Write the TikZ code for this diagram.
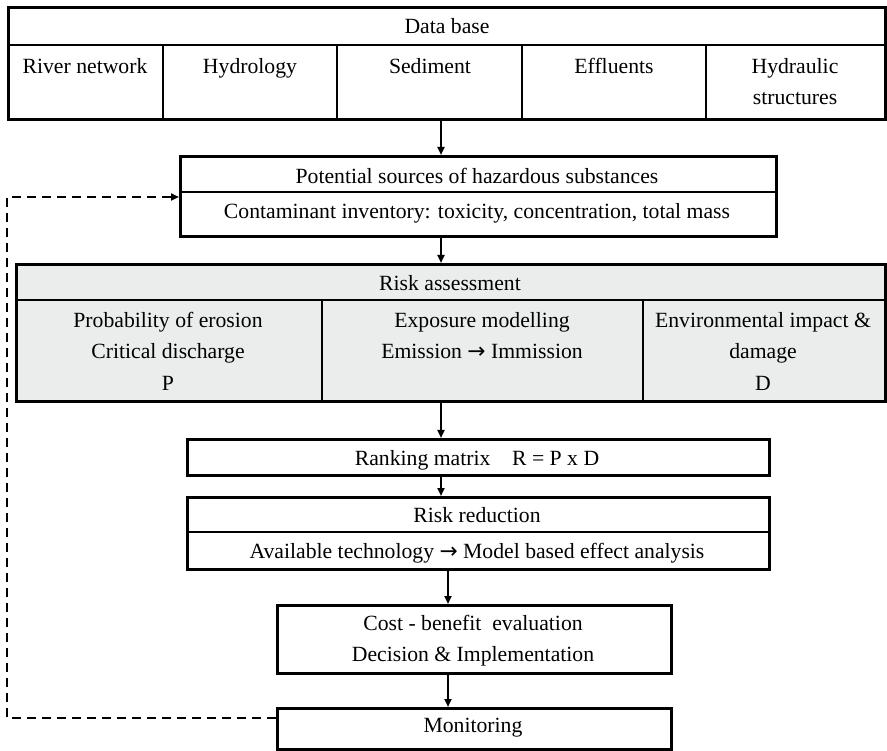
\documentclass[tikz,border=0pt]{standalone}
\usepackage{fontspec}
\setmainfont{Liberation Serif}
\newfontfamily\arrowfont{DejaVu Sans}
\newcommand{\rarr}{{\arrowfont →}}
\usetikzlibrary{arrows.meta}
\definecolor{boxgray}{RGB}{235,237,237}
\tikzset{
  box/.style={draw, line width=3pt, rectangle, inner sep=0pt, anchor=north west},
  txt/.style={font=\fontsize{21.7}{31.5}\selectfont, inner sep=0pt, align=center, anchor=north},
  divider/.style={line width=1.6pt},
  flow/.style={line width=2pt, -{Triangle[length=8pt,width=7pt]}},
  feedback/.style={line width=2.6pt, dash pattern=on 9pt off 6pt},
}
\begin{document}
\begin{tikzpicture}[x=1pt,y=-1pt]
\useasboundingbox (0,0) rectangle (887,751);
% Data base
\node[box, minimum width=877pt, minimum height=112pt] (db) at (7,6) {};
\draw[divider] (7,45) -- (884,45);
\foreach \x in {163,337,522,706} \draw[divider] (\x,45) -- (\x,118);
\node[txt] (tdb) at (447,18) {Data base};
\node[txt] (t1) at (85,58) {River network};
\node[txt] (t2) at (250,58) {Hydrology};
\node[txt] (t3) at (430,58) {Sediment};
\node[txt] (t4) at (614,58) {Effluents};
\node[txt] (t5) at (795,58) {Hydraulic\\structures};
% Potential sources
\node[box, minimum width=596pt, minimum height=80pt] (pot) at (179,155) {};
\draw[divider] (179,192) -- (775,192);
\node[txt] (tpot1) at (477,168) {Potential sources of hazardous substances};
\node[txt] (tpot2) at (477,203) {Contaminant inventory: toxicity, concentration, total mass};
% Risk assessment
\node[box, fill=boxgray, minimum width=869pt, minimum height=137pt] (ra) at (15,263) {};
\draw[divider] (15,300) -- (884,300);
\draw[divider] (322,300) -- (322,400);
\draw[divider] (643,300) -- (643,400);
\node[txt] (tra) at (450,275) {Risk assessment};
\node[txt] (tra1) at (168,312) {Probability of erosion\\Critical discharge\\P};
\node[txt] (tra2) at (482,312) {Exposure modelling\\Emission \rarr\ Immission};
\node[txt] (tra3) at (763,312) {Environmental impact \&\\damage\\D};
% Ranking matrix
\node[box, minimum width=582pt, minimum height=36pt] (rm) at (186,438) {};
\node[txt] (trm) at (477,450) {Ranking matrix\quad R = P x D};
% Risk reduction
\node[box, minimum width=582pt, minimum height=72pt] (rr) at (186,496) {};
\draw[divider] (186,532) -- (768,532);
\node[txt] (trr1) at (477,507) {Risk reduction};
\node[txt] (trr2) at (477,543) {Available technology \rarr\ Model based effect analysis};
% Cost-benefit
\node[box, minimum width=394pt, minimum height=68pt] (cb) at (276,604) {};
\node[txt] (tcb) at (473,615) {Cost - benefit\ \ evaluation\\Decision \& Implementation};
% Monitoring
\node[box, minimum width=394pt, minimum height=41pt] (mon) at (276,707) {};
\node[txt] (tmon) at (473,718) {Monitoring};
% connectors
\coordinate (ax) at (441,0);
\coordinate (bx) at (448,0);
\draw[flow] (db.south -| ax) -- (pot.north -| ax);
\draw[flow] (pot.south -| ax) -- (ra.north -| ax);
\draw[flow] (ra.south -| ax) -- (rm.north -| ax);
\draw[flow] (rm.south -| ax) -- (rr.north -| ax);
\draw[flow] (rr.south -| bx) -- (cb.north -| bx);
\draw[flow] (cb.south -| bx) -- (mon.north -| bx);
% feedback
\coordinate (fb1) at (7,718);
\coordinate (fb2) at (7,197);
\draw[feedback, -{Triangle[length=8pt,width=7pt]}] (mon.west |- fb1) -- (fb1) -- (fb2) -- (pot.west |- fb2);
\end{tikzpicture}
\end{document}
